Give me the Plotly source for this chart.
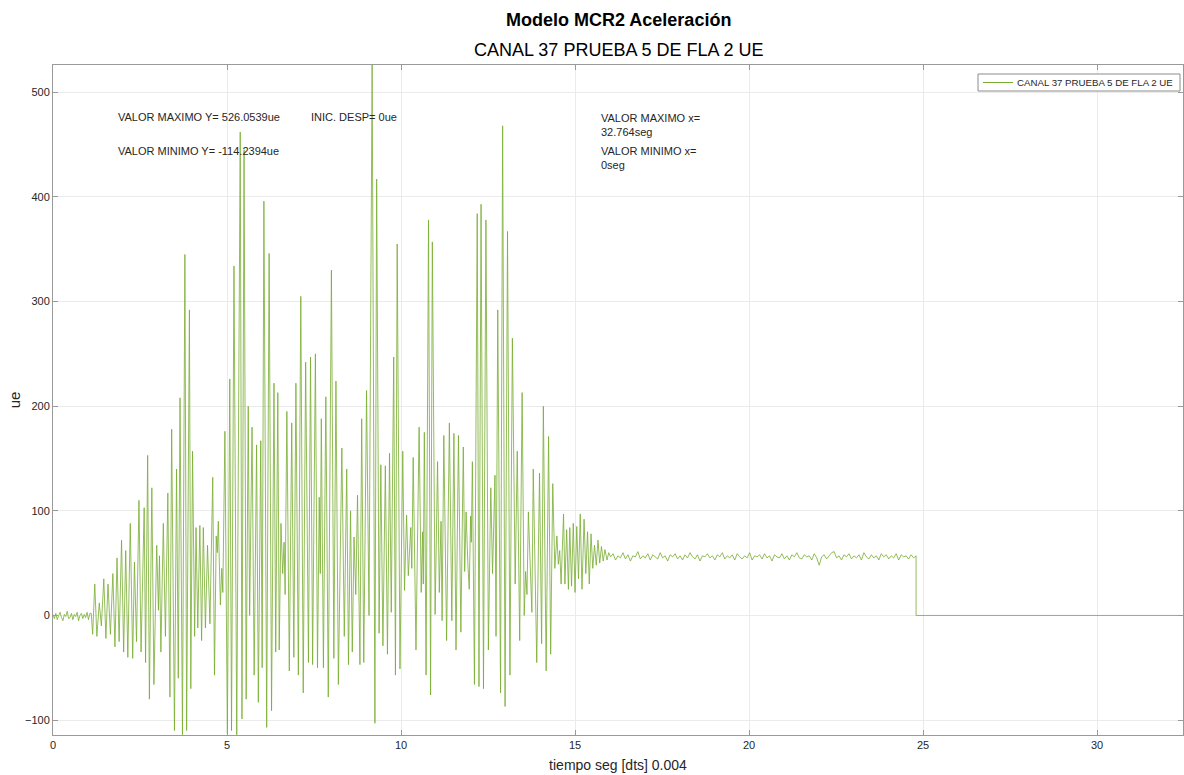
import numpy as np
import plotly.graph_objects as go

# ---- signal data (ue vs seconds) ----
T_END = 32.764
X_VIEW = 32.47
Y_MAX = 526.0539
Y_MIN = -114.2394

# quiet start, 0 .. 1.08 s
quiet_v = [1, -3, 2, -4, 0, 3, -2, -5, 1, -1, 4, -3, -2, 2, -4, 1, -1, 3, -5, 0, 2, -3, 1, -2, 3, -4, 2]

# strong-motion part: turning points (time, value)
osc_t = [
    1.10, 1.14, 1.20, 1.26, 1.33, 1.39, 1.46, 1.52, 1.58, 1.65, 1.72, 1.78, 1.84, 1.90, 1.97, 2.03,
    2.09, 2.15, 2.22, 2.29, 2.34, 2.40, 2.47, 2.53, 2.58, 2.62, 2.66, 2.72, 2.77, 2.84, 2.90, 2.98,
    3.03, 3.06, 3.10, 3.17, 3.23, 3.30, 3.36, 3.41, 3.49, 3.55, 3.60, 3.65, 3.72, 3.79, 3.84, 3.92,
    3.96, 4.01, 4.07, 4.11, 4.16, 4.22, 4.27, 4.32, 4.38, 4.44, 4.51, 4.59, 4.64, 4.69, 4.72, 4.75,
    4.81, 4.85, 4.88, 4.94, 5.01, 5.08, 5.13, 5.20, 5.28, 5.38, 5.43, 5.49, 5.55, 5.61, 5.65, 5.72,
    5.78, 5.85, 5.90, 5.97, 6.01, 6.06, 6.14, 6.21, 6.28, 6.35, 6.40, 6.46, 6.50, 6.55, 6.60, 6.64,
    6.67, 6.72, 6.79, 6.86, 6.92, 6.98, 7.05, 7.12, 7.19, 7.26, 7.34, 7.40, 7.46, 7.54, 7.60, 7.65,
    7.68, 7.71, 7.77, 7.84, 7.91, 8.00, 8.07, 8.13, 8.20, 8.30, 8.37, 8.44, 8.49, 8.55, 8.60, 8.65,
    8.70, 8.75, 8.82, 8.87, 8.93, 9.01, 9.08, 9.17, 9.25, 9.30, 9.37, 9.42, 9.48, 9.55, 9.61, 9.67,
    9.72, 9.79, 9.84, 9.89, 9.97, 10.05, 10.10, 10.16, 10.21, 10.28, 10.31, 10.35, 10.43, 10.52, 10.58, 10.62,
    10.64, 10.67, 10.72, 10.79, 10.85, 10.90, 10.98, 11.05, 11.10, 11.15, 11.18, 11.23, 11.31, 11.39, 11.46, 11.52,
    11.58, 11.65, 11.72, 11.79, 11.83, 11.87, 11.92, 11.96, 12.00, 12.02, 12.05, 12.11, 12.19, 12.24, 12.30, 12.37,
    12.44, 12.51, 12.58, 12.63, 12.70, 12.73, 12.78, 12.86, 12.92, 12.99, 13.06, 13.13, 13.20, 13.28, 13.34, 13.41,
    13.48, 13.54, 13.58, 13.62, 13.66, 13.76, 13.80, 13.90, 13.98, 14.04, 14.09, 14.17, 14.24, 14.30, 14.36, 14.42,
    14.48, 14.52, 14.56, 14.60, 14.67, 14.71, 14.76, 14.81, 14.85, 14.90, 14.95, 15.00, 15.05, 15.10, 15.15, 15.20,
    15.26, 15.31, 15.36, 15.41, 15.46, 15.51, 15.56, 15.61, 15.66, 15.71, 15.76, 15.81, 15.86, 15.92, 15.97,
]
osc_v = [
    2, -18, 30, -20, 12, -10, 35, -22, 30, -18, 40, -30, 55, -25, 72, -35,
    62, -40, 88, -41, 51, -25, 110, -35, 57, 103, -45, 153, -80, 122, -66, 67,
    5, 57, -35, 88, -20, 117, -78, 178, -110, 140, -60, 208, -114, 345, -110, 292,
    -70, 157, -20, 84, -12, 86, -24, 84, -12, 67, -8, 132, -57, 76, 60, 90,
    10, 45, 22, 176, -113, 226, -110, 334, -114, 462, -99, 445, -80, 200, 0, 180,
    -57, 163, -83, 167, -50, 396, -107, 346, -91, 222, -35, 213, -33, 88, 40, 70,
    20, 195, -53, 184, -40, 222, -57, 305, -74, 242, -45, 247, -47, 250, -50, 113,
    40, 188, -50, 209, -78, 330, -41, 224, -66, 160, -20, 140, -47, 100, -35, 75,
    20, 115, -47, 188, -45, 215, 0, 526.0539, -103, 417, -17, 144, -29, 143, -37, 155,
    3, 247, -57, 355, -51, 157, 24, 96, 38, 84, 45, 151, -33, 180, 22, 80,
    30, 175, -57, 378, -76, 357, 1, 147, 22, 90, -5, 172, -24, 184, -5, 174,
    -33, 172, -16, 161, 42, 99, 50, 25, 95, 70, 147, -66, 384, -68, 393, -70,
    378, -33, 122, 40, 134, -20, 292, -74, 468, -87, 367, -57, 265, 30, 157, -24,
    213, 0, 42, 20, 99, 3, 140, -45, 136, -27, 200, -53, 171, -37, 126, 45,
    76, 49, 62, 30, 97, 30, 82, 25, 84, 28, 88, 22, 85, 35, 97, 25,
    92, 40, 80, 30, 78, 45, 67, 48, 72, 50, 66, 52, 63, 53, 60,
]

# residual level after shaking, 16.0 .. 24.8 s
settle_v = [
    56, 59, 53, 57, 55, 60, 54, 58, 52, 57, 56, 61, 54, 57, 55, 59, 53, 58, 56, 54,
    60, 55, 57, 52, 58, 56, 59, 54, 57, 53, 58, 55, 60, 56, 54, 58, 52, 57, 56, 59,
    55, 57, 53, 58, 56, 60, 54, 57, 55, 58, 53, 59, 56, 54, 57, 55, 60, 53, 57, 56,
    58, 54, 59, 55, 57, 52, 58, 56, 55, 59, 54, 57, 53, 58, 56, 60, 55, 54, 58, 56,
    57, 53, 59, 55, 48, 56, 58, 54, 57, 60, 61, 55, 57, 53, 58, 56, 59, 54, 57, 55,
    58, 53, 60, 56, 54, 58, 55, 57, 53, 59, 56, 58, 54, 57, 55, 59, 53, 58, 56, 57,
    54, 58, 55, 57,
]
t_drop = 24.80

# assemble the record
t_quiet = np.linspace(0.0, 1.06, len(quiet_v))
t_settle = np.linspace(16.02, t_drop, len(settle_v))
t_all = np.concatenate([t_quiet, osc_t, t_settle, [t_drop, t_drop, T_END]])
v_all = np.concatenate([quiet_v, osc_v, settle_v, [settle_v[-1], 0.0, 0.0]])

label = "CANAL 37 PRUEBA 5 DE FLA 2 UE"
LINE_COLOR = "#77AC30"
FONT = "Liberation Sans, Arial, Helvetica, sans-serif"
TXT = "#262626"
AX = "#9a9a9a"
GRID = "#ebebeb"

# plot-area geometry in pixels (used for the hand-drawn legend box)
W, H = 1184, 775
ML, MR, MT, MB = 53, 1, 65, 40
PW, PH = W - ML - MR, H - MT - MB


def px_x(px):
    return (px - ML) / PW


def px_y(py):
    return (H - MB - py) / PH


fig = go.Figure()
fig.add_trace(go.Scatter(
    x=t_all, y=v_all, mode="lines", name=label, showlegend=False,
    line=dict(color=LINE_COLOR, width=0.8),
))

axis_common = dict(
    showgrid=True, gridcolor=GRID, gridwidth=1,
    showline=True, linecolor=AX, linewidth=1, mirror="ticks",
    ticks="inside", ticklen=5, tickcolor=AX,
    zeroline=False,
    tickfont=dict(family=FONT, size=11, color=TXT),
)

fig.update_xaxes(
    range=[0, X_VIEW], tickvals=[0, 5, 10, 15, 20, 25, 30],
    title=dict(text="tiempo seg [dts] 0.004", font=dict(family=FONT, size=14, color=TXT), standoff=9),
    **axis_common,
)
fig.update_yaxes(
    range=[Y_MIN, Y_MAX], tickvals=[-100, 0, 100, 200, 300, 400, 500],
    title=dict(text="ue", font=dict(family=FONT, size=15, color=TXT), standoff=0),
    **axis_common,
)

notes = [
    (1.80, 476, "VALOR MAXIMO Y= 526.0539ue"),
    (1.80, 444, "VALOR MINIMO Y= -114.2394ue"),
    (7.36, 476, "INIC. DESP= 0ue"),
    (15.70, 469, "VALOR MAXIMO x=<br>32.764seg"),
    (15.70, 437, "VALOR MINIMO x=<br>0seg"),
]
for x, y, s in notes:
    fig.add_annotation(
        x=x, y=y, xref="x", yref="y", text=s, showarrow=False,
        xanchor="left", yanchor="middle", align="left",
        font=dict(family=FONT, size=11, color=TXT),
    )

fig.add_annotation(
    x=0.5, y=1.067, xref="paper", yref="paper", showarrow=False,
    text="<b>Modelo MCR2 Aceleración</b>", yanchor="middle",
    font=dict(family=FONT, size=18, color="#000000"),
)
fig.add_annotation(
    x=0.5, y=1.022, xref="paper", yref="paper", showarrow=False,
    text="CANAL 37 PRUEBA 5 DE FLA 2 UE", yanchor="middle",
    font=dict(family=FONT, size=18, color="#000000"),
)

# legend box: frame, line sample, label
fig.add_shape(
    type="rect", xref="paper", yref="paper",
    x0=px_x(978), x1=px_x(1180), y0=px_y(91), y1=px_y(74),
    line=dict(color="#8c8c8c", width=1), fillcolor="white", layer="above",
)
fig.add_shape(
    type="line", xref="paper", yref="paper",
    x0=px_x(983), x1=px_x(1013), y0=px_y(82.5), y1=px_y(82.5),
    line=dict(color=LINE_COLOR, width=1), layer="above",
)
fig.add_annotation(
    x=px_x(1015), y=px_y(82.5), xref="paper", yref="paper", showarrow=False,
    text=label, xanchor="left", yanchor="middle",
    font=dict(family=FONT, size=9.7, color=TXT),
)

fig.update_layout(
    width=W, height=H,
    margin=dict(l=ML, r=MR, t=MT, b=MB),
    paper_bgcolor="white", plot_bgcolor="white",
    showlegend=False,
)

fig.write_html("out.html")
